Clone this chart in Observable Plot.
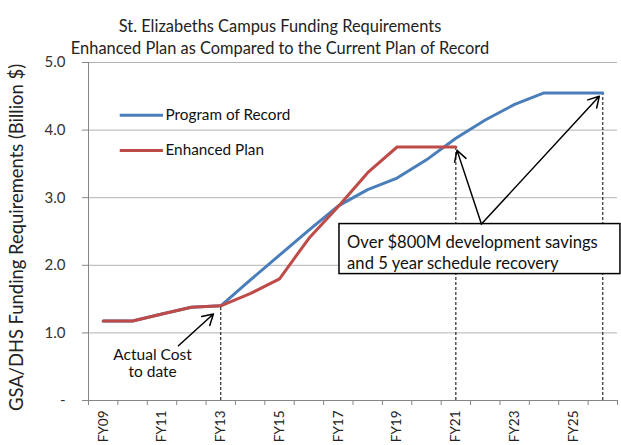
<!DOCTYPE html>
<html><head><meta charset="utf-8">
<script src="https://cdn.jsdelivr.net/npm/d3@7"></script>
<script src="https://cdn.jsdelivr.net/npm/@observablehq/plot@0.6"></script>
<style>body{margin:0;background:#fff;} #chart svg{display:block;}</style>
</head><body><div id="chart"></div>
<script>
// ---- data ----
const fiscalYears = [2009,2010,2011,2012,2013,2014,2015,2016,2017,2018,2019,2020,2021,2022,2023,2024,2025,2026];
const tickLabelYears = [2009,2011,2013,2015,2017,2019,2021,2023,2025];
const tickLabels = ["FY09","FY11","FY13","FY15","FY17","FY19","FY21","FY23","FY25"];
const yTicks = [0,1,2,3,4,5];
const yTickLabels = ["-","1.0","2.0","3.0","4.0","5.0"];
const programOfRecord = [1.175,1.175,1.28,1.38,1.40,1.78,2.15,2.52,2.88,3.12,3.29,3.56,3.88,4.15,4.38,4.55,4.55,4.55];
const enhancedYears = [2009,2010,2011,2012,2013,2014,2015,2016,2017,2018,2019,2020,2021];
const enhancedPlan = [1.175,1.175,1.28,1.38,1.40,1.58,1.80,2.40,2.87,3.37,3.75,3.75,3.75];
const seriesNames = ["Program of Record","Enhanced Plan"];
const seriesColors = ["#4a7ebb","#be4b48"];
const titleLines = ["St. Elizabeths Campus Funding Requirements","Enhanced Plan as Compared to the Current Plan of Record"];
const yTitle = "GSA/DHS Funding Requirements (Billion $)";
const dashedYears = [2013,2021,2026];
const dashedTops = [1.40,3.75,4.55];
const boxLines = ["Over $800M development savings","and 5 year schedule recovery"];
const actualLines = ["Actual Cost","to date"];

// ---- tables ----
const recordData = fiscalYears.map((x,i)=>({x, v: programOfRecord[i]}));
const enhancedData = enhancedYears.map((x,i)=>({x, v: enhancedPlan[i]}));
const tickBoundaries = fiscalYears.map(d=>d-0.5).concat([fiscalYears[fiscalYears.length-1]+0.5]);
const dashed = dashedYears.map((x,i)=>({x, top: dashedTops[i]}));
// annotation placement (data units)
const box = [{x1:2017.04, x2:2026.6, y1:1.87, y2:2.61}];
const boxText = boxLines.map((t,i)=>({t, x:2017.3, y:[2.33,2.03][i]}));
const arrows = [
  {x1:2021.87, y1:2.61, x2:2021.04, y2:3.70},
  {x1:2021.87, y1:2.61, x2:2025.88, y2:4.50},
  {x1:2011.56, y1:0.81, x2:2012.75, y2:1.28}
];
const actualText = actualLines.map((t,i)=>({t, x:2010.68, y:[0.67,0.42][i]}));
const legend = seriesNames.map((name,i)=>({name, color:seriesColors[i], y:[4.22,3.70][i], x1:2009.58, x2:2011.05, tx:2011.12}));

const font = "Lato, 'Open Sans', sans-serif";
const chart = Plot.plot({
  width: 621, height: 445,
  marginLeft: 88, marginRight: 4, marginTop: 62, marginBottom: 45,
  style: {fontFamily: font, fontSize: "13px", color: "#222", background: "#fff"},
  x: {type: "linear", domain: [2008.5, 2026.5], axis: null},
  y: {domain: [0, 5], axis: null},
  marks: [
    Plot.gridY([1,2,3,4,5], {stroke: "#b3b3b3", strokeOpacity: 1}),
    Plot.ruleX([2008.5], {stroke: "#868686"}),
    Plot.ruleY([0], {stroke: "#868686"}),
    Plot.axisY(yTicks, {tickSize: 6, tickPadding: 17, stroke: "#868686", fill: "#333", fontSize: 15,
      tickFormat: (d) => yTickLabels[yTicks.indexOf(d)], label: null}),
    Plot.axisX(tickBoundaries, {tickSize: 5, stroke: "#868686", tickFormat: () => "", label: null}),
    Plot.axisX(tickLabelYears, {tickSize: 0, tickPadding: 10, tickRotate: -90, fill: "#222", fontSize: 13.5,
      tickFormat: (d) => tickLabels[tickLabelYears.indexOf(d)], label: null}),
    Plot.ruleX(dashed, {x: "x", y1: 0, y2: "top", stroke: "#000", strokeWidth: 1, strokeDasharray: "3,2"}),
    Plot.line(recordData, {x: "x", y: "v", stroke: seriesColors[0], strokeWidth: 3}),
    Plot.line(enhancedData, {x: "x", y: "v", stroke: seriesColors[1], strokeWidth: 3}),
    Plot.ruleY(legend.slice(0,1), {y: "y", x1: "x1", x2: "x2", stroke: seriesColors[0], strokeWidth: 3}),
    Plot.ruleY(legend.slice(1,2), {y: "y", x1: "x1", x2: "x2", stroke: seriesColors[1], strokeWidth: 3}),
    Plot.text(legend, {x: "tx", y: "y", text: "name", textAnchor: "start", fontSize: 15.3, fill: "#111"}),
    Plot.rect(box, {x1: "x1", x2: "x2", y1: "y1", y2: "y2", fill: "#fff", stroke: "#000", strokeWidth: 1.5}),
    Plot.text(boxText, {x: "x", y: "y", text: "t", textAnchor: "start", fontSize: 16.6, fill: "#111"}),
    Plot.arrow(arrows, {x1: "x1", y1: "y1", x2: "x2", y2: "y2", stroke: "#000", strokeWidth: 1.5, headLength: 12}),
    Plot.text(actualText, {x: "x", y: "y", text: "t", fontSize: 15.5, fill: "#111"}),
    Plot.text([titleLines[0]], {frameAnchor: "top", text: d => d, dx: -73, dy: -42, fontSize: 16.4, fill: "#222"}),
    Plot.text([titleLines[1]], {frameAnchor: "top", text: d => d, dx: -73, dy: -20, fontSize: 16.4, fill: "#222"}),
    Plot.text([yTitle], {frameAnchor: "left", textAnchor: "middle", text: d => d, rotate: -90, dx: -71, dy: 6, fontSize: 18.4, fill: "#222"})
  ]
});
document.getElementById("chart").appendChild(chart);
</script>
</body></html>
